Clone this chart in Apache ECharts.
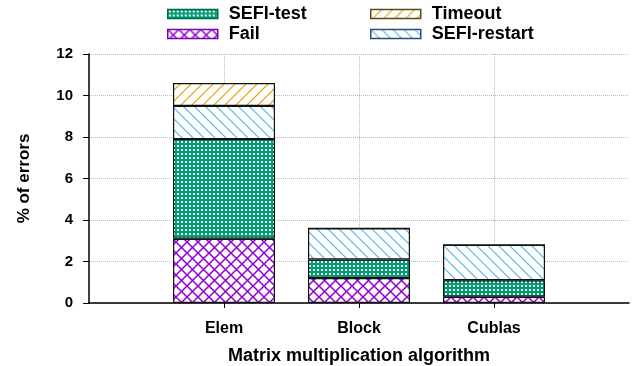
<!DOCTYPE html>
<html>
<head>
<meta charset="utf-8">
<script src="https://cdn.jsdelivr.net/npm/echarts@6/dist/echarts.min.js"></script>
<style>html,body{margin:0;padding:0;background:#fff}#c{width:634px;height:366px}</style>
</head>
<body>
<div id="c"></div>
<script>
var categories = ['Elem', 'Block', 'Cublas'];
var fail = [3.1, 1.2, 0.3];
var sefiTest = [4.8, 0.9, 0.8];
var sefiRestart = [1.6, 1.5, 1.7];
var timeout = [1.1, 0, 0];
var yTicks = [0, 2, 4, 6, 8, 10, 12];

var FONT = '"Liberation Sans", Arial, sans-serif';

function tile(w, h, draw) {
  var c = document.createElement('canvas');
  c.width = w; c.height = h;
  var g = c.getContext('2d');
  g.fillStyle = '#fff'; g.fillRect(0, 0, w, h);
  draw(g, w, h);
  return { image: c, repeat: 'repeat' };
}
function diag(g, s, dir, color, lw) {
  g.strokeStyle = color; g.lineWidth = lw;
  g.beginPath();
  for (var k = -1; k <= 1; k++) {
    if (dir > 0) { g.moveTo(k * s - 1, s + 1); g.lineTo(k * s + s + 1, -1); }
    else { g.moveTo(k * s - 1, -1); g.lineTo(k * s + s + 1, s + 1); }
  }
  g.stroke();
}
var PURPLE = '#9400d3', GREEN = '#009e73', ORANGE = '#e69f00', BLUE = '#56b4e9';
var patFail = tile(11, 11, function (g) { diag(g, 11, 1, PURPLE, 1.5); diag(g, 11, -1, PURPLE, 1.5); });
var patTest = tile(4, 4, function (g) { g.fillStyle = GREEN; g.fillRect(0, 0, 4, 4); g.fillStyle = '#fff'; g.fillRect(1, 1, 2, 2); });
var patTimeout = tile(11, 11, function (g) { diag(g, 11, 1, ORANGE, 1.2); });
var patRestart = tile(11, 11, function (g) { diag(g, 11, -1, BLUE, 1.2); });

var axisCats = [''].concat(categories, ['']);
function pad(a) { return ['-'].concat(a, ['-']); }
function isCat(i, v) { return v !== ''; }

function bar(name, data, pat) {
  return {
    name: name, type: 'bar', stack: 'all', data: pad(data), barWidth: 102,
    itemStyle: { color: pat, borderColor: '#111', borderWidth: 1.2 },
    emphasis: { disabled: true }
  };
}

var legendText = { fontFamily: FONT, fontWeight: 'bold', fontSize: 18, color: '#000', padding: [0, 0, 0, 6] };
var chart = echarts.init(document.getElementById('c'), null, { renderer: 'canvas' });
chart.setOption({
  animation: false,
  legend: [
    { orient: 'vertical', left: 167, top: 5, padding: 0, itemGap: 2, itemWidth: 50, itemHeight: 9, icon: 'rect',
      textStyle: legendText, selectedMode: false,
      data: [{ name: 'SEFI-test', itemStyle: { borderColor: '#00664a', borderWidth: 1.5 } },
             { name: 'Fail', itemStyle: { borderColor: '#7a00b0', borderWidth: 1.5 } }] },
    { orient: 'vertical', left: 370, top: 5, padding: 0, itemGap: 2, itemWidth: 50, itemHeight: 9, icon: 'rect',
      textStyle: legendText, selectedMode: false,
      data: [{ name: 'Timeout', itemStyle: { borderColor: '#5a4a20', borderWidth: 1.5 } },
             { name: 'SEFI-restart', itemStyle: { borderColor: '#2a5070', borderWidth: 1.5 } }] }
  ],
  grid: { left: 89, right: 5, top: 54, bottom: 63, containLabel: false, outerBoundsMode: 'none' },
  xAxis: {
    type: 'category', data: axisCats, boundaryGap: false,
    name: 'Matrix multiplication algorithm', nameLocation: 'middle', nameGap: 44,
    nameTextStyle: { fontFamily: FONT, fontWeight: 'bold', fontSize: 18, color: '#000' },
    axisLine: { lineStyle: { color: '#000', width: 1.5 } },
    axisTick: { show: true, interval: isCat, length: 5, lineStyle: { color: '#000', width: 1 } },
    axisLabel: { interval: isCat, margin: 18, fontFamily: FONT, fontWeight: 'bold', fontSize: 16, color: '#000' },
    splitLine: { show: true, interval: isCat, lineStyle: { color: '#bbb', type: 'dotted', width: 1 } }
  },
  yAxis: {
    type: 'value', min: yTicks[0], max: yTicks[yTicks.length - 1], interval: 2,
    name: '% of errors', nameLocation: 'middle', nameGap: 56, nameRotate: 90,
    nameTextStyle: { fontFamily: FONT, fontWeight: 'bold', fontSize: 17, color: '#000' },
    axisLine: { show: true, lineStyle: { color: '#000', width: 1.5 } },
    axisTick: { show: true, length: 6, lineStyle: { color: '#000', width: 1 } },
    axisLabel: { margin: 16, fontFamily: FONT, fontWeight: 'bold', fontSize: 15, color: '#000' },
    splitLine: { show: true, lineStyle: { color: '#bbb', type: 'dotted', width: 1 } }
  },
  series: [
    bar('Fail', fail, patFail),
    bar('SEFI-test', sefiTest, patTest),
    bar('SEFI-restart', sefiRestart, patRestart),
    bar('Timeout', timeout, patTimeout)
  ]
});
</script>
</body>
</html>
